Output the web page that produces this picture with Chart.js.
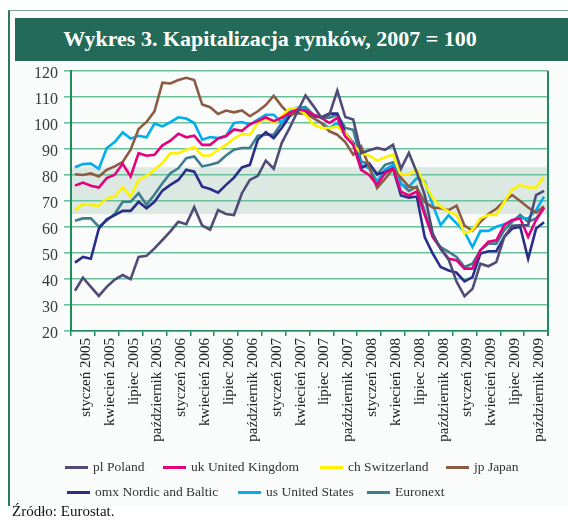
<!DOCTYPE html>
<html lang="pl">
<head>
<meta charset="utf-8">
<title>Wykres 3. Kapitalizacja rynków, 2007 = 100</title>
<script src="https://cdn.jsdelivr.net/npm/chart.js@4.4.1/dist/chart.umd.min.js"></script>
<style>
  html, body { margin: 0; padding: 0; background: #fff; }
  body { width: 568px; height: 520px; position: relative; overflow: hidden; font-family: "Liberation Serif", "DejaVu Serif", serif; }
  #panel { position: absolute; left: 8px; top: 10px; width: 570px; height: 495px; background: #fafcfb;
           border-left: 2px solid #2b7a63; border-top: 1px solid #7fa89a; }
  #banner { position: absolute; left: 15px; top: 18px; width: 560px; height: 43px; background: #236b58; }
  #title { position: absolute; left: 0; top: 19px; width: 540px; text-align: center; color: #fff;
           font-family: "Liberation Serif", serif; font-weight: bold; font-size: 22px; line-height: 40px; }
  #chartBox { position: absolute; left: 0; top: 0; width: 568px; height: 520px; }
  .leg { position: absolute; font-family: "Liberation Serif", serif; font-size: 13.5px; color: #333; white-space: nowrap; line-height: 16px; }
  .leg span.sw { position: absolute; left: 0; top: 7px; width: 23px; height: 3px; }
  .leg span.tx { position: absolute; left: 28px; top: 0; }
  #source { position: absolute; left: 12px; top: 503px; font-family: "Liberation Serif", serif; font-size: 15px; color: #111; }
</style>
</head>
<body>
<div id="panel"></div>
<div id="banner"></div>
<div id="title">Wykres 3. Kapitalizacja rynków, 2007 = 100</div>
<div id="chartBox"><canvas id="chartMarkets" width="568" height="520"></canvas></div>
<div id="legendBox"></div>
<div id="source">Źródło: Eurostat.</div>
<script>
// quarterly tick labels, Jan 2005 - Oct 2009 (data is monthly, 60 points)
const quarterLabels = [
    'styczeń 2005', 'kwiecień 2005', 'lipiec 2005', 'październik 2005',
    'styczeń 2006', 'kwiecień 2006', 'lipiec 2006', 'październik 2006',
    'styczeń 2007', 'kwiecień 2007', 'lipiec 2007', 'październik 2007',
    'styczeń 2008', 'kwiecień 2008', 'lipiec 2008', 'październik 2008',
    'styczeń 2009', 'kwiecień 2009', 'lipiec 2009', 'październik 2009'
];

const plPoland = [35.5, 40.5, 37, 33.5, 37, 39.8, 41.5, 39.9, 48.5, 48.9, 51.8, 55, 58.3, 62, 61.1, 67.6, 60.6, 59, 66.5, 65,
    64.6, 73, 78.1, 79.7, 85.5, 82.4, 92.3, 98.1, 104.5, 110.6, 106.5, 102, 103.2, 112.5, 102.3, 101.3, 88.4, 89.5, 90.4, 89.7,
    91.6, 82.4, 88.5, 81, 72.3, 57.5, 51.5, 47.5, 39, 33.4, 36.2, 45.9, 44.9, 46.5, 56.2, 60.5, 60.7, 60.7, 72.3, 73.9];
const ukUnitedKingdom = [75.9, 77.1, 75.9, 75.2, 78.8, 80.1, 84.3, 79.4, 88.4, 87.4, 87.8, 91.4, 93.2, 95.9, 94.5, 95.1, 91.6, 91.6, 94, 95,
    97.5, 97, 99.5, 100.7, 102.2, 100.7, 102, 103.9, 105.2, 104.8, 103.2, 102, 100, 102, 94.9, 91.6, 82, 80, 76.2, 80.7,
    82.6, 73.6, 72.1, 73.6, 64.6, 56.2, 51.7, 47.8, 47.2, 44, 44, 51.1, 54.3, 54.9, 60.7, 62.7, 63.3, 56.2, 62.7, 67.4];
const chSwitzerland = [66.5, 68.8, 68.5, 68.2, 71, 71.7, 75.2, 71.7, 78.1, 79.7, 82, 84.6, 88.4, 88.4, 89.7, 90.7, 87.5, 87.5, 89.7, 91.6,
    94, 95.8, 95.5, 100, 101.7, 100, 102.6, 105.6, 105.6, 103.2, 99.4, 98.1, 98.1, 98.7, 96.2, 91.6, 88.4, 87.5, 85.5, 86.8,
    87.8, 80.3, 80.3, 82, 76.8, 71, 67.8, 65.9, 64.6, 57.5, 58.8, 63.3, 64.6, 64.6, 69.7, 74.3, 76.2, 75.2, 75.2, 79.4];
const jpJapan = [80.3, 80, 80.6, 79.4, 82, 83.3, 85, 89.7, 97.7, 100.4, 104.5, 115.5, 115.2, 116.5, 117.4, 116.5, 107.1, 106.1, 103.5, 104.8,
    104.1, 104.8, 102.6, 104.5, 106.9, 110.5, 106.5, 103.3, 103.8, 103.5, 101.9, 100, 96.8, 95.5, 92.7, 87.8, 91, 83.3, 75, 78.5,
    82.3, 79, 75.5, 75, 69.7, 67.5, 67.2, 66.5, 68.2, 60.5, 58.5, 62, 65, 67, 70, 72.3, 70, 67.5, 65.5, 68];
const omxNordicBaltic = [46.3, 48.5, 47.8, 59.4, 63, 64.6, 66.2, 66.2, 69.7, 67.2, 69.7, 74, 76.2, 78.1, 82, 81.3, 75.5, 74.6, 73.2, 76.2,
    79, 82.9, 83.9, 93.6, 96.5, 94.2, 98.1, 102.6, 104.8, 104.5, 102.6, 102.2, 103.6, 103.6, 96.2, 92.3, 82.6, 84.5, 80.3, 81.1,
    82.6, 72.1, 71.3, 71.7, 56, 49.8, 44.6, 43.3, 42.4, 39.1, 40.7, 49.8, 50.7, 50.7, 56.2, 59.4, 60.1, 47.8, 59.4, 61.8];
const usUnitedStates = [83, 84.2, 84.4, 82.4, 90.4, 92.7, 96.4, 94, 95.1, 94.5, 99.8, 98.7, 100.3, 102.2, 101.7, 100, 93.6, 94.6, 94.2, 95,
    100, 100.4, 99.4, 101.3, 103.2, 103.2, 100, 105.2, 105.8, 105.2, 101.9, 100, 98.1, 100, 94.9, 92.3, 83.9, 82.6, 77.5, 82,
    83.9, 76.2, 75.5, 78.8, 77.5, 68.5, 60.7, 64.5, 61.4, 58.1, 52.3, 58.5, 58.5, 60.1, 61.1, 62.4, 63.6, 63.3, 66.5, 71.7];
const euronext = [62.4, 63.3, 63.3, 60.1, 62.5, 65, 69.7, 69.7, 73, 68.5, 72.5, 76.8, 80.7, 82.6, 86.5, 87.1, 83.3, 83.9, 84.8, 87.5,
    89.7, 90.4, 90.4, 95.1, 95.5, 95.5, 100, 103.9, 105.8, 106.1, 103.2, 102, 102, 103.2, 98.1, 97.4, 85.2, 84.2, 80.1, 83.9,
    84.9, 76.8, 73.9, 75.5, 65.9, 56.2, 52.3, 50.4, 48.5, 44.6, 45.9, 51.1, 53.6, 53.6, 58.8, 62, 64.6, 62, 63.3, 67.4];

const seriesNames = ['pl Poland', 'uk United Kingdom', 'ch Switzerland', 'jp Japan', 'omx Nordic and Baltic', 'us United States', 'Euronext'];
const seriesValues = [plPoland, ukUnitedKingdom, chSwitzerland, jpJapan, omxNordicBaltic, usUnitedStates, euronext];
const seriesColors = ['#4f4c78', '#e5007d', '#fff200', '#8c5b46', '#2b2d8a', '#00aeef', '#3d7d8e'];

const yTicksRange = [20, 120];
const bandRange = [65, 83]; // shaded zone behind the lines

// legend placement (px) - rows don't line up, so set them by hand
const legendSpots = [[65, 459], [163, 459], [320, 459], [446, 459], [67, 484], [238, 484], [367, 484]];

const monthCount = plPoland.length;
const gridGreen = '#6cbf9b';
const axisGreen = '#1f8a5c';

// background band + right frame line
const frameExtras = {
    id: 'frameExtras',
    beforeDraw(chart) {
        const { ctx, chartArea, scales } = chart;
        const yTop = scales.y.getPixelForValue(bandRange[1]);
        const yBot = scales.y.getPixelForValue(bandRange[0]);
        ctx.save();
        ctx.fillStyle = '#dce9e2';
        ctx.fillRect(chartArea.left, yTop, chartArea.right - chartArea.left, yBot - yTop);
        ctx.restore();
    },
    afterDraw(chart) {
        const { ctx, chartArea } = chart;
        ctx.save();
        ctx.strokeStyle = axisGreen;
        ctx.lineWidth = 2;
        ctx.beginPath();
        ctx.moveTo(chartArea.right, chartArea.top);
        ctx.lineTo(chartArea.right, chartArea.bottom + 5);
        ctx.stroke();
        ctx.restore();
    }
};

const datasets = seriesValues.map((vals, s) => ({
    label: seriesNames[s],
    data: vals.map((v, i) => ({ x: i + 0.5, y: v })),
    borderColor: seriesColors[s],
    backgroundColor: seriesColors[s],
    borderWidth: 2.6,
    pointRadius: 0,
    tension: 0,
    fill: false
}));

new Chart(document.getElementById('chartMarkets').getContext('2d'), {
    type: 'line',
    data: { datasets: datasets },
    options: {
        responsive: false,
        animation: false,
        layout: { padding: { left: 31, right: 9, top: 71, bottom: 69 } },
        plugins: { legend: { display: false }, tooltip: { enabled: false } },
        scales: {
            x: {
                type: 'linear',
                min: 0, max: monthCount,
                afterBuildTicks: (scale) => {
                    const t = [];
                    for (let k = 0; k <= quarterLabels.length * 2; k++) t.push({ value: k * 1.5 });
                    scale.ticks = t;
                },
                afterFit: (scale) => { scale.height = 120; },
                grid: {
                    drawOnChartArea: false,
                    tickLength: 5,
                    lineWidth: 1.5,
                    tickColor: (c) => (c.index % 2 ? 'rgba(0,0,0,0)' : axisGreen)
                },
                border: { display: true, color: axisGreen, width: 1.5 },
                ticks: {
                    autoSkip: false,
                    minRotation: 90, maxRotation: 90,
                    padding: 2,
                    labelOffset: 3,
                    color: '#222',
                    font: { family: 'Liberation Serif', size: 15 },
                    callback: (value, index) => (index % 2 ? quarterLabels[(index - 1) / 2] : '')
                }
            },
            y: {
                min: yTicksRange[0], max: yTicksRange[1],
                afterFit: (scale) => { scale.width = 40; },
                grid: { color: gridGreen, lineWidth: 1.6, tickLength: 7 },
                border: { display: true, color: axisGreen, width: 2 },
                ticks: {
                    stepSize: 10,
                    padding: 6,
                    labelOffset: 3,
                    color: '#3a3a3a',
                    font: { family: 'Liberation Serif', size: 16 }
                }
            }
        }
    },
    plugins: [frameExtras]
});

// html legend built from the same series arrays
const legendBox = document.getElementById('legendBox');
seriesNames.forEach((name, s) => {
    const item = document.createElement('div');
    item.className = 'leg';
    item.style.left = legendSpots[s][0] + 'px';
    item.style.top = legendSpots[s][1] + 'px';
    item.innerHTML = '<span class="sw" style="background:' + seriesColors[s] + '"></span><span class="tx">' + name + '</span>';
    legendBox.appendChild(item);
});
</script>
</body>
</html>
